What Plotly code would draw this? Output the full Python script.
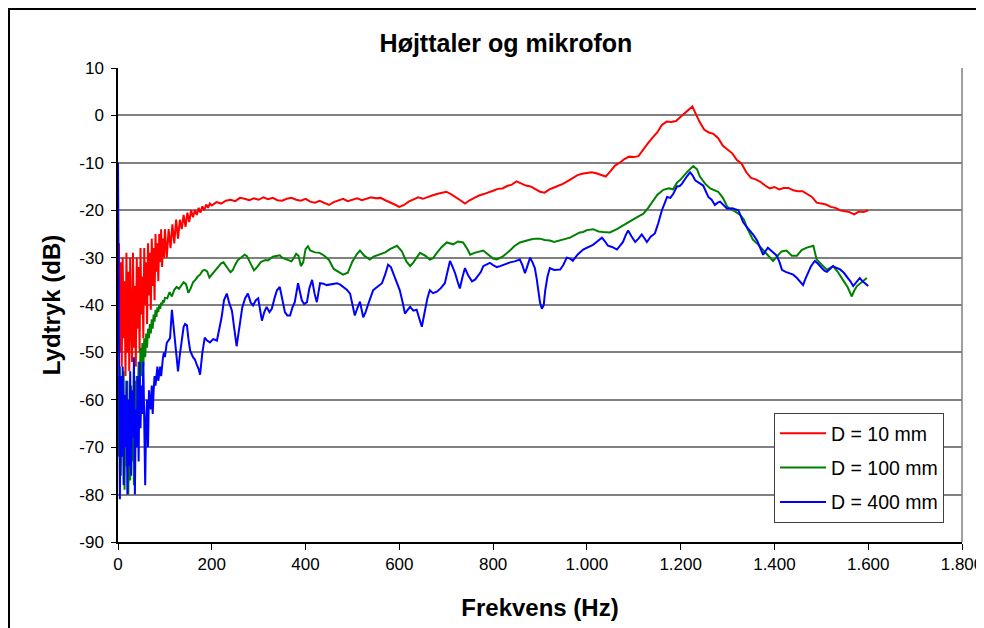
import plotly.graph_objects as go

# ---------------- data ----------------
red_f = [0, 2, 4, 6, 8, 10, 12, 14, 16, 18, 20, 22, 24, 26, 28, 30, 32, 34, 36, 38, 40,
         42, 44, 46, 48, 50, 52, 54, 56, 58, 60, 62, 64, 66, 68, 70, 72, 74, 76, 78, 80,
         82, 84, 86, 88, 90, 92, 94, 96, 98, 100,
         104, 108, 112, 116, 120, 124, 128, 132, 136, 140, 144, 148, 152, 156, 160, 164,
         168, 172, 176, 180, 184, 188, 192, 196, 200,
         210, 220, 230, 240, 250, 260, 270, 280, 290, 300, 310, 320, 330, 340, 350, 360,
         370, 380, 390, 400, 410, 420, 430, 440, 450, 460, 470, 480, 490, 500, 510, 520,
         530, 540, 550, 560, 570, 580, 590, 600, 610, 620, 630, 640, 650, 660, 670, 680,
         690, 700, 710, 720, 730, 740, 750, 760, 770, 780, 790, 800, 810, 820, 830, 840,
         850, 860, 870, 880, 890, 900, 910, 920, 930, 940, 950, 960, 970, 980, 990, 1000,
         1010, 1020, 1030, 1040, 1050, 1060, 1070, 1080, 1090, 1100, 1110, 1120, 1130,
         1140, 1150, 1160, 1170, 1180, 1190, 1200, 1210, 1220, 1225, 1230, 1240, 1250,
         1260, 1270, 1280, 1290, 1300, 1310, 1320, 1330, 1340, 1350, 1360, 1370, 1380,
         1390, 1400, 1410, 1420, 1430, 1440, 1450, 1460, 1470, 1480, 1490, 1500, 1510,
         1520, 1530, 1540, 1550, 1560, 1570, 1580, 1590, 1600]
red_db = [-36, -27, -50, -31, -53, -30, -47, -35, -55, -29, -50, -33, -54, -30, -44, -52,
          -29, -49, -36, -53, -30, -45, -32, -50, -28, -42, -34, -47, -28, -40, -31, -44,
          -27, -38, -29, -41, -26, -36, -28, -39, -25, -33, -27, -35, -25, -31, -24, -32,
          -26, -30, -24,
          -30, -24, -28, -23, -27, -22, -26, -22, -24, -21, -23.5, -20.5, -22.5, -20, -21.5,
          -20, -21, -19.5, -20.5, -19.2, -20, -18.8, -19.5, -18.6, -19,
          -18.3, -18.6, -18.0, -17.8, -18.1, -17.4, -17.6, -17.9, -17.5, -17.8, -17.3,
          -17.7, -17.4, -17.9, -18.0, -17.6, -17.4, -17.8, -18.0, -17.6, -18.2, -18.4,
          -18.0, -18.5, -18.9, -18.3, -18.0, -17.6, -18.1, -17.8, -17.5, -17.9, -17.6,
          -17.3, -17.5, -17.4, -17.9, -18.3, -18.8, -19.3, -18.9, -18.2, -17.8, -17.3,
          -17.6, -17.2, -16.9, -16.6, -16.4, -16.1, -16.6, -17.2, -17.9, -18.6, -17.9,
          -17.4, -16.9, -16.6, -16.3, -15.9, -15.5, -15.4, -14.9, -14.6, -13.9, -14.3,
          -14.8, -15.0, -15.6, -16.1, -16.3, -15.6, -15.2, -14.8, -14.4, -13.8, -13.2,
          -12.6, -12.3, -12.2, -12.0, -12.2, -12.6, -12.9, -11.8, -10.6, -10.0, -9.2,
          -8.7, -8.8, -8.6, -7.2, -5.9, -4.7, -3.6, -2.0, -1.3, -1.4, -1.2, -0.3, 0.6,
          1.6, 1.9, 0.8, -1.3, -3.0, -3.6, -3.9, -4.8, -6.4, -7.2, -8.0, -9.4, -10.2,
          -12.0, -13.2, -13.5, -14.0, -14.8, -15.4, -15.1, -15.6, -15.3, -15.3, -15.8,
          -16.0, -16.0, -16.6, -17.2, -18.4, -18.6, -18.8, -19.3, -19.5, -20.0, -20.2,
          -20.4, -20.9, -20.3, -20.4, -20.0]

green_f = [0, 2, 4, 6, 8, 10, 12, 14, 16, 18, 20, 22, 24, 26, 28, 30, 32, 34, 36, 38, 40,
           42, 44, 46, 48, 50, 52, 54, 56, 58, 60, 62, 64, 66, 68, 70, 72, 74, 76, 78, 80,
           82, 84, 86, 88, 90, 92, 94, 96, 98, 100,
           105, 110, 115, 120, 125, 130, 135, 140, 145, 150, 155, 160, 165, 170, 175, 180,
           185, 190, 195, 200, 205, 210, 215, 220, 225, 230, 235, 240, 245, 250, 255, 260,
           265, 270, 275, 280, 285, 290, 295, 300, 305, 310, 315, 320, 330, 340, 345, 350,
           360, 370, 375, 380, 385, 390, 395, 400, 405, 410, 420, 430, 440, 450, 460, 470,
           480, 490, 500, 510, 516, 525, 537, 545, 559, 570, 580, 595, 605, 615, 623, 630,
           644, 655, 665, 672, 680, 690, 701, 715, 725, 736, 745, 751, 760, 770, 779, 790,
           800, 808, 820, 836, 845, 857, 870, 880, 890, 900, 910, 921, 930, 943, 955, 964,
           975, 985, 992, 1000, 1013, 1025, 1035, 1049, 1064, 1075, 1085, 1092, 1100, 1110,
           1120, 1130, 1141, 1150, 1163, 1175, 1184, 1192, 1200, 1205, 1215, 1227, 1235,
           1241, 1252, 1263, 1272, 1280, 1290, 1299, 1305, 1315, 1327, 1335, 1341, 1348,
           1354, 1365, 1376, 1385, 1397, 1405, 1415, 1426, 1437, 1448, 1458, 1469, 1483,
           1490, 1500, 1512, 1525, 1535, 1546, 1556, 1565, 1570, 1576, 1585, 1597]
green_db = [-55, -72, -53, -76, -58, -70, -54, -79, -60, -74, -56, -80, -62, -77, -57, -73,
            -60, -78, -56, -67, -55, -63, -52, -58, -49, -55, -48, -53, -47, -51, -46, -49,
            -45, -47, -44, -46, -43, -45, -42, -43.5, -41, -42.5, -40.5, -41.5, -40, -40.8,
            -39.5, -40, -39, -39.5, -38.5,
            -38.6, -37.3, -38.2, -36.8, -36.2, -36.6, -35.8, -35.2, -35.6, -37.4, -36.5,
            -35.2, -34.7, -34.0, -33.6, -32.8, -32.6, -32.9, -34.2, -33.6, -32.8, -32.3,
            -31.8, -31.2, -31.0, -31.6, -32.4, -33.1, -32.6, -31.5, -30.6, -30.2, -29.8,
            -29.4, -29.7, -30.8, -31.9, -32.7, -32.2, -31.4, -30.9, -30.7, -30.5, -30.6,
            -29.8, -29.6, -29.5, -30.0, -30.4, -30.8, -30.1, -29.2, -29.6, -31.8, -31.0,
            -28.2, -27.6, -28.5, -28.9, -29.0, -29.6, -30.5, -32.4, -33.0, -33.6, -33.2,
            -30.8, -29.2, -28.5, -29.6, -30.4, -29.8, -29.3, -28.9, -28.2, -27.5, -28.6,
            -30.8, -31.8, -31.0, -29.0, -29.6, -30.4, -30.1, -29.0, -27.8, -26.8, -27.2,
            -26.6, -26.8, -28.2, -29.4, -29.0, -28.8, -28.5, -29.4, -30.2, -30.4, -29.8,
            -28.5, -27.6, -26.8, -26.4, -26.2, -26.0, -26.0, -26.3, -26.4, -26.7, -26.4,
            -26.0, -25.8, -25.2, -24.7, -24.6, -24.2, -24.0, -24.5, -24.6, -24.7, -24.0,
            -23.4, -22.8, -22.5, -21.9, -21.3, -20.8, -19.6, -18.2, -16.8, -15.7, -15.4,
            -15.6, -14.2, -13.5, -12.9, -11.8, -10.7, -11.4, -12.9, -14.4, -15.4, -15.8,
            -16.1, -17.4, -19.2, -19.7, -20.2, -21.0, -22.0, -23.6, -25.0, -26.2, -27.2,
            -28.3, -29.4, -30.7, -29.8, -28.7, -28.5, -29.6, -29.6, -28.4, -27.9, -27.5,
            -30.4, -31.4, -32.6, -31.8, -33.0, -34.7, -36.2, -38.2, -37.0, -36.0, -35.3,
            -34.3]

blue_f = [0, 1, 2, 4, 6, 8, 10, 12, 14, 16, 18, 20, 22, 24, 26, 28, 30, 32, 34, 36, 38,
          40, 42, 44, 46, 48, 50, 52, 54, 56, 58, 60, 62, 64, 66, 68, 70, 72, 74, 76, 78,
          80, 82, 84, 86, 88, 90, 92, 94, 96, 98, 100,
          104, 108, 111, 115, 118, 121, 125, 128, 132, 136, 140, 143, 147, 150, 154, 160,
          164, 168, 172, 175, 180, 185, 190, 196, 203, 211, 216, 221, 226, 232, 237, 243,
          248, 253, 257, 260, 265, 271, 277, 283, 288, 294, 299, 303, 307, 312, 317, 323,
          328, 334, 339, 345, 350, 356, 361, 367, 372, 377, 384, 388, 392, 397, 403, 408,
          414, 419, 424, 431, 438, 445, 455, 467, 474, 480, 488, 495, 500, 505, 510, 516,
          523, 528, 533, 538, 544, 550, 556, 563, 570, 576, 582, 587, 594, 601, 606, 612,
          618, 623, 630, 637, 643, 648, 655, 660, 665, 672, 680, 688, 697, 703, 708, 713,
          719, 724, 729, 735, 740, 747, 755, 762, 768, 774, 779, 786, 793, 800, 808, 815,
          825, 836, 846, 857, 862, 868, 873, 879, 884, 889, 893, 896, 900, 904, 908, 911,
          916, 921, 930, 943, 950, 957, 964, 970, 980, 992, 1002, 1013, 1022, 1032, 1038,
          1045, 1055, 1064, 1070, 1077, 1083, 1088, 1095, 1103, 1110, 1117, 1122, 1128,
          1136, 1145, 1152, 1160, 1166, 1171, 1178, 1184, 1192, 1198, 1203, 1208, 1213,
          1220, 1225, 1231, 1241, 1248, 1259, 1266, 1273, 1279, 1284, 1291, 1299, 1310,
          1317, 1323, 1328, 1333, 1340, 1348, 1355, 1363, 1370, 1376, 1381, 1386, 1395,
          1405, 1411, 1416, 1424, 1433, 1440, 1448, 1455, 1461, 1466, 1471, 1478, 1486,
          1493, 1501, 1507, 1512, 1518, 1525, 1533, 1540, 1548, 1555, 1562, 1568, 1575,
          1582, 1588, 1594, 1600]
blue_db = [-10, -38, -62, -81, -55, -72, -53, -78, -59, -70, -56, -80, -60, -74, -54, -76,
           -58, -68, -51, -80, -62, -70, -55, -73, -52, -66, -57, -63, -52, -70, -78, -64,
           -60, -70, -58, -60, -62, -57, -63, -58, -55, -57, -55, -53, -56, -54, -53, -55,
           -52, -51, -50, -51,
           -48, -47.5, -47, -41, -44, -45.5, -50, -54, -50.4, -47, -44.6, -44, -44.3, -47,
           -49.7, -51, -51.5, -52.6, -53.5, -54.7, -50, -46.9, -47.5, -47.9, -47.2, -47.5,
           -45, -42.6, -39, -37.6, -39.5, -41.2, -45, -48.7, -46, -44, -40.5, -38.6, -37.6,
           -39.5, -40.1, -39, -38.6, -41, -43.3, -41.5, -40.4, -41.5, -40.8, -38.5, -36.9,
           -36.2, -38.5, -41.5, -42.2, -42.2, -40.5, -39.4, -35.4, -37.5, -39, -39.8,
           -39.4, -36.5, -34.7, -37.5, -39.4, -35.4, -35.5, -35.8, -35.6, -35.4, -35.7,
           -36.2, -36.8, -37.6, -40, -42.2, -40.8, -39.3, -42.6, -41.5, -40, -38.5, -36.9,
           -36.4, -36, -35.4, -33.5, -31.5, -32, -33.3, -34.8, -36.9, -39, -41.8, -41,
           -40.4, -41.2, -41, -43, -44.6, -41, -38.5, -36.9, -37.5, -37.2, -36.5, -35.4,
           -33, -30.7, -31.8, -33.3, -35, -36.5, -34, -32.2, -33.8, -35, -34.6, -33.7, -33,
           -31.8, -31.5, -31.1, -31.6, -32, -31.8, -31.4, -31, -30.8, -30.4, -31.5, -33.3,
           -31.8, -30, -31, -32.2, -34.5, -37.1, -39.5, -40.8, -40, -37, -34, -32.2, -32.6,
           -32.5, -31.5, -30, -30.2, -30.7, -29.4, -28.3, -27.8, -27.3, -26.6, -25.8,
           -26.5, -27.5, -27.8, -28.3, -27.6, -26.7, -25.2, -24.3, -25.5, -26.7, -26,
           -25.1, -25.8, -26.7, -25.6, -24.9, -22.8, -20, -18.5, -17.2, -17.4, -16.6, -15,
           -14.9, -14.4, -13.6, -12.9, -12, -12.6, -13.7, -14.4, -14.8, -17.2, -17.8,
           -18.9, -18.4, -18.2, -19, -19.7, -19.6, -19.8, -20, -21.2, -22.5, -23.4, -24.3,
           -25.2, -26.4, -28, -29.4, -28.6, -27.9, -28.7, -29.6, -31, -32.6, -33, -33.3,
           -33.6, -34.3, -35, -35.8, -34.5, -33.3, -31.8, -30.7, -31.3, -32.2, -32.8, -33,
           -32.4, -31.8, -32.2, -32.5, -33.2, -34, -35, -36, -35.1, -34.3, -35, -35.6, -36]

series_names = ["D = 10 mm", "D = 100 mm", "D = 400 mm"]
series_colors = ["#FF0000", "#008000", "#0000FF"]

x_tickvals = [0, 200, 400, 600, 800, 1000, 1200, 1400, 1600, 1800]
x_ticktext = ["0", "200", "400", "600", "800", "1.000", "1.200", "1.400", "1.600", "1.800"]
y_tickvals = [10, 0, -10, -20, -30, -40, -50, -60, -70, -80, -90]
y_ticktext = ["10", "0", "-10", "-20", "-30", "-40", "-50", "-60", "-70", "-80", "-90"]

# ---------------- figure ----------------
# The page body adds an 8 px offset, so the figure is 8 px smaller and shifted.
FONT = "Liberation Sans, Arial, sans-serif"
W, H = 976, 620
L, R, T, B = 110, 22, 60, 86
PW, PH = W - L - R, H - T - B

fig = go.Figure()
for i, (fx, fy) in enumerate([(red_f, red_db), (green_f, green_db), (blue_f, blue_db)]):
    fig.add_trace(go.Scatter(
        x=fx, y=fy, mode="lines", name=series_names[i],
        line=dict(color=series_colors[i], width=2),
        legendgroup=f"g{i}",
    ))

fig.update_layout(
    width=W, height=H,
    margin=dict(l=L, r=R, t=T, b=B, autoexpand=False),
    paper_bgcolor="white", plot_bgcolor="white",
    font=dict(family=FONT, size=17, color="black"),
    title=dict(text="<b>Højttaler og mikrofon</b>", x=498 / W, xanchor="center",
               y=1 - 35 / H, yanchor="middle", font=dict(size=25, family=FONT)),
    showlegend=True,
    legend=dict(x=(936 - L) / PW, xanchor="right", y=(H - B - 515) / PH, yanchor="bottom",
                bgcolor="white", bordercolor="#404040", borderwidth=1,
                font=dict(size=19.5, family=FONT), tracegroupgap=6, itemwidth=46,
                traceorder="grouped"),
)
fig.update_xaxes(
    range=[0, 1800], tickvals=x_tickvals, ticktext=x_ticktext,
    showgrid=False, zeroline=False, automargin=False,
    showline=True, linecolor="black", linewidth=1.5,
    ticks="outside", ticklen=6, tickcolor="black", tickwidth=1,
    tickfont=dict(size=17, family=FONT), ticklabelstandoff=0,
    title=dict(text="<b>Frekvens (Hz)</b>", font=dict(size=24, family=FONT), standoff=26),
)
fig.update_yaxes(
    range=[-90, 10], tickvals=y_tickvals, ticktext=y_ticktext,
    showgrid=True, gridcolor="#808080", gridwidth=1.5, zeroline=False, automargin=False,
    showline=True, linecolor="black", linewidth=1.5,
    ticks="outside", ticklen=5, tickcolor="black", tickwidth=1,
    tickfont=dict(size=17, family=FONT), ticklabelstandoff=4,
    title=dict(text="<b>Lydtryk (dB)</b>", font=dict(size=24, family=FONT), standoff=12),
)

# plot-area right border (gray) and chart-area frame (black)
fig.add_shape(type="line", xref="paper", yref="paper", x0=1, x1=1, y0=0, y1=1,
              line=dict(color="#808080", width=1.5))
fig.add_shape(type="rect", xref="paper", yref="paper",
              x0=(1 - L) / PW, x1=1.2, y0=-0.4, y1=(H - B - 1) / PH,
              line=dict(color="black", width=2), layer="below")

fig.write_html("out.html")
